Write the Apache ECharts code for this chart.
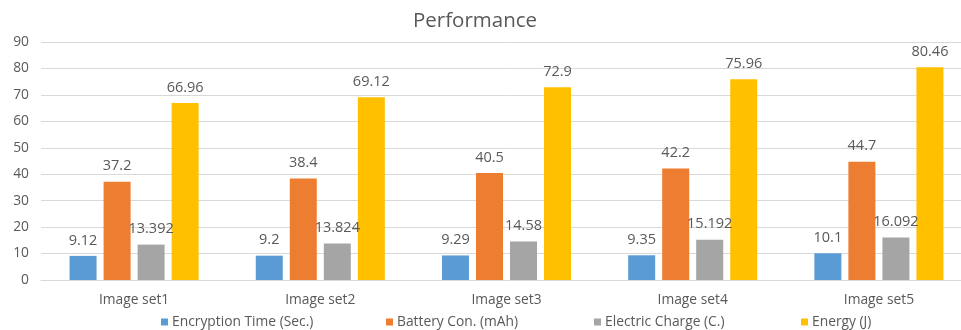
<!DOCTYPE html>
<html>
<head>
<meta charset="utf-8">
<script src="https://cdn.jsdelivr.net/npm/echarts@6/dist/echarts.min.js"></script>
<style>
  html, body { margin: 0; padding: 0; background: #fff; overflow: hidden; }
  #chart { width: 980px; height: 330px; }
</style>
</head>
<body>
<div id="chart"></div>
<script>
// Categories and per-series measurements
const categories = ['Image set1', 'Image set2', 'Image set3', 'Image set4', 'Image set5'];
const encryptionTime = [9.12, 9.2, 9.29, 9.35, 10.1];
const batteryCon = [37.2, 38.4, 40.5, 42.2, 44.7];
const electricCharge = [13.392, 13.824, 14.58, 15.192, 16.092];
const energy = [66.96, 69.12, 72.9, 75.96, 80.46];
const yTicks = [0, 10, 20, 30, 40, 50, 60, 70, 80, 90];

const seriesNames = ['Encryption Time (Sec.)', 'Battery Con. (mAh)', 'Electric Charge (C.)', 'Energy (J)'];
const seriesColors = ['#5b9bd5', '#ed7d31', '#a5a5a5', '#ffc000'];
const legendLeft = [161, 386, 594, 801];

const FONT = 'Open Sans';
const TEXT = '#595959';

function barSeries(i, data) {
  return {
    name: seriesNames[i],
    type: 'bar',
    data: data,
    barWidth: 27,
    barGap: '26%',
    itemStyle: { color: seriesColors[i] },
    label: {
      show: true,
      position: 'top',
      distance: 8,
      color: TEXT,
      fontFamily: FONT,
      fontSize: 14.5
    }
  };
}

// one legend entry per component so each can sit at its own spot
const legends = seriesNames.map((name, i) => ({
  data: [name],
  left: legendLeft[i],
  bottom: 1,
  itemWidth: 7,
  itemHeight: 7,
  icon: 'rect',
  padding: 0,
  textStyle: { color: TEXT, fontFamily: FONT, fontSize: 13.8, padding: [0, 0, 0, -1] }
}));

const chart = echarts.init(document.getElementById('chart'), null, { renderer: 'canvas' });
chart.setOption({
  animation: false,
  backgroundColor: '#ffffff',
  title: {
    text: 'Performance',
    left: 413,
    top: 11,
    padding: 0,
    textStyle: { color: TEXT, fontFamily: FONT, fontSize: 20.5, fontWeight: 'normal' }
  },
  legend: legends,
  grid: { left: 41, width: 931, top: 42, bottom: 50, containLabel: false },
  xAxis: {
    type: 'category',
    data: categories,
    axisLine: { lineStyle: { color: '#d9d9d9' } },
    axisTick: { show: false },
    axisLabel: { color: TEXT, fontFamily: FONT, fontSize: 13.8, margin: 13 }
  },
  yAxis: {
    type: 'value',
    min: yTicks[0],
    max: yTicks[yTicks.length - 1],
    interval: 10,
    axisLine: { show: false },
    axisTick: { show: false },
    splitLine: { lineStyle: { color: '#d9d9d9' } },
    axisLabel: { color: TEXT, fontFamily: FONT, fontSize: 13.8, margin: 12 }
  },
  series: [
    barSeries(0, encryptionTime),
    barSeries(1, batteryCon),
    barSeries(2, electricCharge),
    barSeries(3, energy)
  ]
});
</script>
</body>
</html>
